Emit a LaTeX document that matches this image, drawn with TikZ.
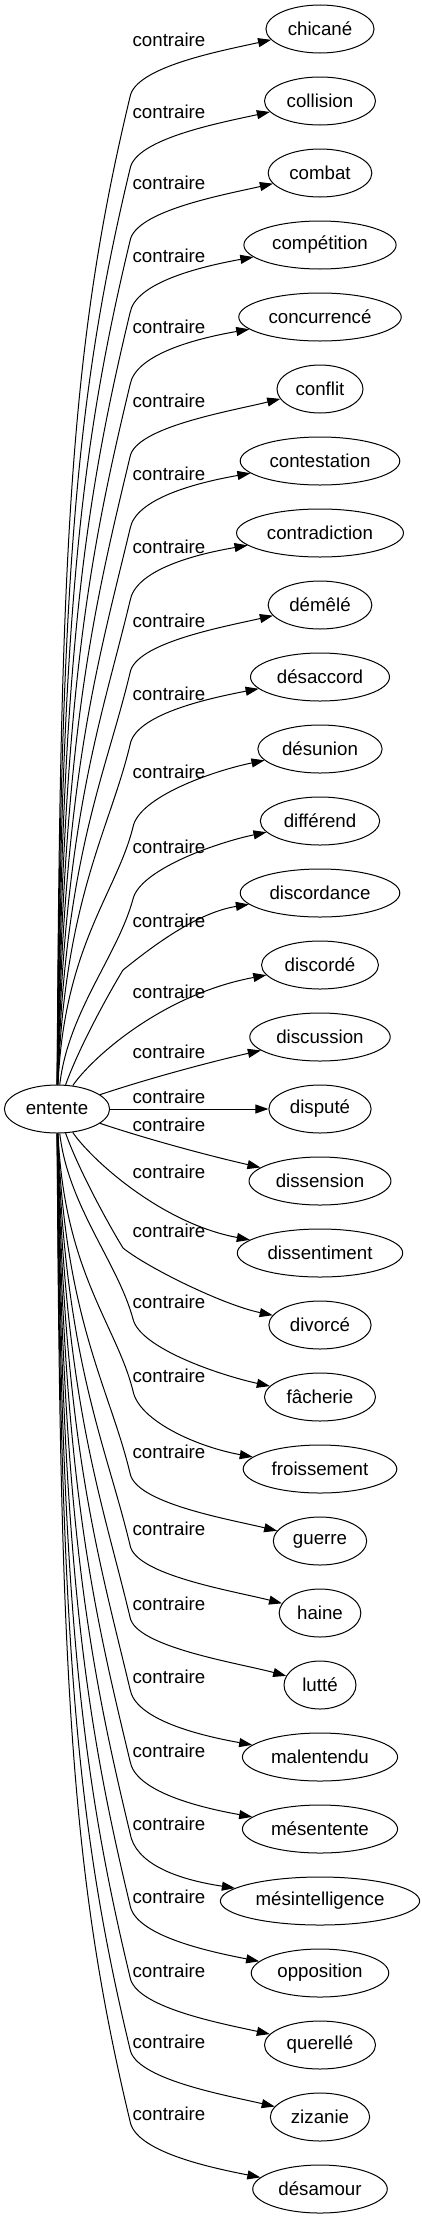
\documentclass[tikz,border=0pt]{standalone}
\usepackage{fontspec}
\setmainfont{Liberation Sans}
\usetikzlibrary{arrows.meta,calc,shapes.geometric}
\begin{document}
\begin{tikzpicture}[x=1pt,y=-1pt,
  word/.style={ellipse,draw,line width=1pt,inner xsep=6pt,inner ysep=2pt,
    minimum height=48pt,minimum width=72pt,font=\fontsize{18.7pt}{22pt}\selectfont},
  lbl/.style={font=\fontsize{18.7pt}{22pt}\selectfont,inner sep=0pt,anchor=base},
  edge/.style={line width=1pt,-{Triangle[length=13pt,width=9pt]}}]
\useasboundingbox (0,0) rectangle (422,2219);
\node[word] (e) at (57,1109) {entente};
\foreach \i/\w in {0/chicané,1/collision,2/combat,3/compétition,4/concurrencé,5/conflit,
  6/contestation,7/contradiction,8/démêlé,9/désaccord,10/désunion,11/différend,
  12/discordance,13/discordé,14/discussion,15/disputé,16/dissension,17/dissentiment,
  18/divorcé,19/fâcherie,20/froissement,21/guerre,22/haine,23/lutté,24/malentendu,
  25/mésentente,26/mésintelligence,27/opposition,28/querellé,29/zizanie,30/désamour}
  \node[word] (t\i) at (320,{29+72*\i}) {\w};
% far edges, top
\foreach \i/\ly in {0/41,1/113,2/184,3/257,4/328,5/402,6/475,7/548,8/622,9/695}{
  \pgfmathsetmacro\ky{29+72*\i+68}
  \pgfmathsetmacro\D{1086-\ky}
  \pgfmathsetmacro\ax{60+0.5*\i}
  \pgfmathsetmacro\ay{1086-0.55*\D}
  \pgfmathsetmacro\bx{130-0.06*\D}
  \pgfmathsetmacro\by{\ky+0.25*\D}
  \pgfmathsetmacro\cy{\ky-30}
  \draw[edge] (e) .. controls (\ax,\ay) and (\bx,\by) .. (130,\ky)
    .. controls (135,\cy) and ($(t\i.west)+(-45,22)$) .. (t\i)
    node[lbl] at (169,{\ly+5}) {contraire};
}
% far edges, bottom
\foreach \i/\ly in {21/1453,22/1530,23/1605,24/1678,25/1752,26/1825,27/1898,28/1972,29/2043,30/2115}{
  \pgfmathsetmacro\ky{29+72*\i-68}
  \pgfmathsetmacro\D{\ky-1132}
  \pgfmathsetmacro\ax{60+0.5*(30-\i)}
  \pgfmathsetmacro\ay{1132+0.55*\D}
  \pgfmathsetmacro\bx{130-0.06*\D}
  \pgfmathsetmacro\by{\ky-0.25*\D}
  \pgfmathsetmacro\cy{\ky+30}
  \draw[edge] (e) .. controls (\ax,\ay) and (\bx,\by) .. (130,\ky)
    .. controls (135,\cy) and ($(t\i.west)+(-45,-22)$) .. (t\i)
    node[lbl] at (169,{\ly+5}) {contraire};
}
% near edges
\draw[edge] (e) .. controls (64,946) and (117,892) .. (133,827)
  .. controls (139,797) and ($(t10.west)+(-45,22)$) .. (t10)
  node[lbl] at (169,778) {contraire};
\draw[edge] (e) .. controls (68,1012) and (118,955) .. (133,899)
  .. controls (140,870) and ($(t11.west)+(-45,22)$) .. (t11)
  node[lbl] at (169,853) {contraire};
\draw[edge] (e) .. controls (78,1050) and (106,998) .. (123,970)
  .. controls (148,950) and ($(t12.west)+(-45,20)$) .. (t12)
  node[lbl] at (169,927) {contraire};
\draw[edge] (e) .. controls (90,1060) and (160,995) .. (t13)
  node[lbl] at (169,998) {contraire};
\draw[edge] (e) .. controls (150,1078) and (210,1062) .. (t14)
  node[lbl] at (169,1058) {contraire};
\draw[edge] (e) -- (t15)
  node[lbl] at (169,1103) {contraire};
\draw[edge] (e) .. controls (150,1140) and (210,1156) .. (t16)
  node[lbl] at (169,1131) {contraire};
\draw[edge] (e) .. controls (90,1158) and (160,1223) .. (t17)
  node[lbl] at (169,1178) {contraire};
\draw[edge] (e) .. controls (78,1168) and (106,1220) .. (123,1248)
  .. controls (148,1268) and ($(t18.west)+(-45,-20)$) .. (t18)
  node[lbl] at (169,1237) {contraire};
\draw[edge] (e) .. controls (68,1206) and (118,1263) .. (133,1319)
  .. controls (140,1348) and ($(t19.west)+(-45,-22)$) .. (t19)
  node[lbl] at (169,1308) {contraire};
\draw[edge] (e) .. controls (64,1272) and (117,1326) .. (133,1391)
  .. controls (139,1421) and ($(t20.west)+(-45,-22)$) .. (t20)
  node[lbl] at (169,1382) {contraire};
\end{tikzpicture}
\end{document}
